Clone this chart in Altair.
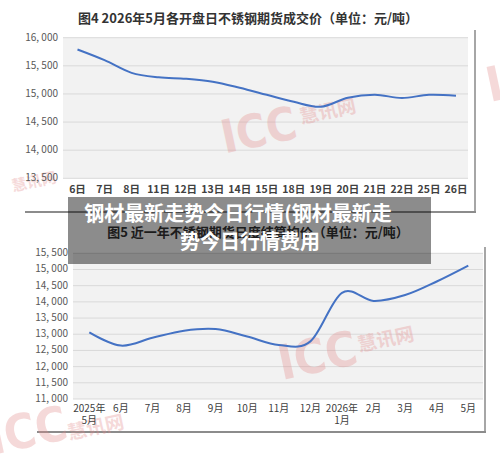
import altair as alt
import pandas as pd

# ---------------- data ----------------
top_title = "图4 2026年5月各开盘日不锈钢期货成交价（单位：元/吨）"
top_days = ["6日", "7日", "8日", "11日", "12日", "13日", "14日", "15日",
            "18日", "19日", "20日", "21日", "22日", "25日", "26日"]
top_prices = [15790, 15600, 15375, 15295, 15270, 15218, 15110, 14985,
              14860, 14772, 14932, 14985, 14928, 14985, 14968]
top_ticks = [13500, 14000, 14500, 15000, 15500, 16000]

bottom_title = "图5 近一年不锈钢期货日度结算均价（单位：元/吨）"
bottom_months = ["2025年\n5月", "6月", "7月", "8月", "9月", "10月", "11月",
                 "12月", "2026年\n1月", "2月", "3月", "4月", "5月"]
bottom_prices = [13060, 12650, 12890, 13110, 13160, 12930, 12670,
                 12780, 14280, 14030, 14210, 14630, 15120]
bottom_ticks = [11000, 11500, 12000, 12500, 13000, 13500, 14000, 14500, 15000, 15500]

banner_lines = ["钢材最新走势今日行情(钢材最新走", "势今日行情费用"]
watermark_main = "ICC"
watermark_sub = "慧讯网"

FONT = "Noto Sans CJK SC"
LINE_COLOR = "#4472C4"


def fmt(v):
    return f"{v:,}".replace(",", ", ")


top_df = pd.DataFrame({"day": top_days, "price": top_prices})
bot_df = pd.DataFrame({"month": bottom_months, "price": bottom_prices})
top_tick_df = pd.DataFrame({"v": top_ticks, "label": [fmt(v) for v in top_ticks]})
bot_tick_df = pd.DataFrame({"v": bottom_ticks, "label": [fmt(v) for v in bottom_ticks]})
top_cat_df = pd.DataFrame({"day": top_days})
bot_cat_df = pd.DataFrame({"month": bottom_months})

# scales
tx = alt.Scale(type="point", domain=top_days, range=[77.5, 456], padding=0)
ty = alt.Scale(domain=[13500, 16000], range=[178.3, 37.7], zero=False, nice=False)
bx = alt.Scale(type="point", domain=bottom_months, range=[89.3, 468.3], padding=0)
by = alt.Scale(domain=[11000, 15500], range=[399, 253.3], zero=False, nice=False)

one = pd.DataFrame({"a": [0]})


def box(x1, x2, y1, y2, color, opacity=1.0):
    return alt.Chart(one).mark_rect(color=color, opacity=opacity).encode(
        x=alt.value(x1), x2=alt.value(x2), y=alt.value(y1), y2=alt.value(y2))


def label(text, x, y, size, color, weight="normal", angle=0, font=FONT,
          opacity=1.0, align="center"):
    return alt.Chart(pd.DataFrame({"t": [text]})).mark_text(
        font=font, fontSize=size, color=color, fontWeight=weight, angle=angle,
        opacity=opacity, align=align, baseline="middle").encode(
        x=alt.value(x), y=alt.value(y), text="t:N")


layers = []

# cards (shadow edges)
layers += [
    box(474, 476, 30, 213, "#a6a6a6"),
    box(25, 476, 211, 213, "#8c8c8c"),
    box(484, 486, 247, 433, "#a6a6a6"),
    box(37, 486, 431, 433, "#8c8c8c"),
]

# plot backgrounds
layers.append(alt.Chart(one).mark_rect(color="#f2f2f2").encode(
    x=alt.value(63), x2=alt.value(468),
    y=alt.datum(16000, scale=ty, axis=None), y2=alt.datum(13500)))
layers.append(alt.Chart(one).mark_rect(color="#f2f2f2").encode(
    x=alt.value(73), x2=alt.value(483),
    y=alt.datum(15500, scale=by, axis=None), y2=alt.datum(11000)))

# gridlines
layers.append(alt.Chart(top_tick_df).mark_rule(color="#d9d9d9", strokeWidth=1).encode(
    x=alt.value(63), x2=alt.value(468), y=alt.Y("v:Q", scale=ty, axis=None)))
layers.append(alt.Chart(bot_tick_df).mark_rule(color="#d9d9d9", strokeWidth=1).encode(
    x=alt.value(73), x2=alt.value(483), y=alt.Y("v:Q", scale=by, axis=None)))

# watermarks
WM = "#e38b8b"
WF = "DejaVu Sans Condensed, Liberation Sans, sans-serif"
WO = 0.32
layers += [
    label(watermark_main, 259, 132, 46, WM, "bold", 348, WF, WO),
    label(watermark_sub, 328, 112, 19, WM, "bold", 348, FONT, WO),
    label(watermark_main, 318, 358, 48, WM, "bold", 348, WF, WO),
    label(watermark_sub, 386, 340, 19, WM, "bold", 348, FONT, WO),
    label(watermark_main, 28, 433, 48, WM, "bold", 348, WF, WO),
    label(watermark_sub, 96, 428, 19, WM, "bold", 348, FONT, WO),
    label(watermark_sub, 34, 182, 15, WM, "bold", 348, FONT, WO),
    label(watermark_main, 526, 80, 48, WM, "bold", 348, WF, WO),
]

# lines
layers.append(alt.Chart(top_df).mark_line(color=LINE_COLOR, strokeWidth=2,
                                          interpolate="cardinal").encode(
    x=alt.X("day:N", scale=tx, axis=None, sort=top_days),
    y=alt.Y("price:Q", scale=ty, axis=None)))
layers.append(alt.Chart(bot_df).mark_line(color=LINE_COLOR, strokeWidth=2,
                                          interpolate="cardinal").encode(
    x=alt.X("month:N", scale=bx, axis=None, sort=bottom_months),
    y=alt.Y("price:Q", scale=by, axis=None)))

# y tick labels
layers.append(alt.Chart(top_tick_df).mark_text(
    font=FONT, fontSize=10, color="#595959", align="right", baseline="middle").encode(
    x=alt.value(58), y=alt.Y("v:Q", scale=ty, axis=None), text="label:N"))
layers.append(alt.Chart(bot_tick_df).mark_text(
    font=FONT, fontSize=10, color="#595959", align="right", baseline="middle").encode(
    x=alt.value(68), y=alt.Y("v:Q", scale=by, axis=None), text="label:N"))

# x tick labels
layers.append(alt.Chart(top_cat_df).mark_text(
    font=FONT, fontSize=10.5, color="#404040", fontWeight="bold",
    align="center", baseline="middle").encode(
    x=alt.X("day:N", scale=tx, axis=None), y=alt.value(190), text="day:N"))
layers.append(alt.Chart(bot_cat_df).mark_text(
    font=FONT, fontSize=10, color="#404040", align="center", baseline="top",
    lineBreak="\n", lineHeight=12).encode(
    x=alt.X("month:N", scale=bx, axis=None), y=alt.value(404), text="month:N"))

# titles
layers.append(label(top_title, 248, 19, 13, "#333333", "bold"))
layers.append(label(bottom_title, 258, 233, 13, "#333333", "bold"))

# banner overlay
layers.append(box(68, 431, 197, 264, "#000000", 0.45))
layers.append(label(banner_lines[0], 238, 215, 20, "#ffffff", "bold"))
layers.append(label(banner_lines[1], 250, 243, 20, "#ffffff", "bold"))

chart = alt.layer(*layers).resolve_scale(x="independent", y="independent").properties(
    width=500, height=461, padding=0,
    autosize=alt.AutoSizeParams(type="none"),
    background="white",
).configure_view(stroke=None)

chart.save("out.html", embed_options={"renderer": "svg", "actions": False})
